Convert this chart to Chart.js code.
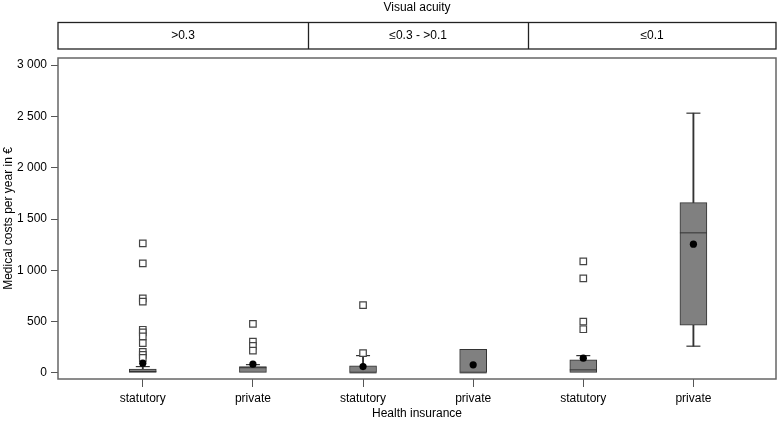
<!DOCTYPE html>
<html lang="en">
<head>
  <meta charset="UTF-8">
  <title>Medical costs by visual acuity</title>
  <script src="https://cdn.jsdelivr.net/npm/chart.js"></script>
  <style>
    html, body { margin: 0; padding: 0; background: #fff; overflow: hidden; }
    #wrap { width: 778px; height: 422px; overflow: hidden; }
    canvas { display: block; }
  </style>
</head>
<body>
<div id="wrap"><canvas id="boxChart" width="778" height="422"></canvas></div>
<script>
// categories (x = 1..6)
const CATEGORIES = ['statutory', 'private', 'statutory', 'private', 'statutory', 'private'];
const PANELS = ['>0.3', '\u22640.3 - >0.1', '\u22640.1'];
const PANEL_BREAKS = [2.5, 4.5];
const Y_TICKS = [0, 500, 1000, 1500, 2000, 2500, 3000];

// box statistics per category
const WHISKER_LOW = [0, 0, 0, null, 0, 260];
const Q1 = [0, 0, 0, 0, 0, 464];
const MEDIAN = [13, 50, 0, 0, 29, 1365];
const Q3 = [36, 61, 68, 230, 126, 1660];
const WHISKER_HIGH = [61, 80, 168, null, 168, 2532];
const MEANS = [94, 85, 61, 78, 143, 1255];
const OUTLIERS = [
  [1262, 1067, 727, 694, 420, 395, 355, 290, 205, 175, 145],
  [477, 305, 263, 217],
  [661, 192],
  [],
  [1086, 921, 499, 425],
  []
];

const FONT = "'Liberation Sans', Arial, sans-serif";
const xs = CATEGORIES.map((c, i) => i + 1);

const boxData = xs.map((x, i) => ({ x, y: [Q1[i], Q3[i]] }));
const whiskerData = [];
const capData = [];
xs.forEach((x, i) => {
  if (WHISKER_HIGH[i] != null && WHISKER_HIGH[i] > Q3[i]) {
    whiskerData.push({ x, y: [Q3[i], WHISKER_HIGH[i]] });
    capData.push({ x, y: WHISKER_HIGH[i] });
  }
  if (WHISKER_LOW[i] != null && WHISKER_LOW[i] < Q1[i]) {
    whiskerData.push({ x, y: [WHISKER_LOW[i], Q1[i]] });
    capData.push({ x, y: WHISKER_LOW[i] });
  }
});
const medianData = xs.map((x, i) => ({ x, y: MEDIAN[i] }));
const meanData = xs.map((x, i) => ({ x, y: MEANS[i] }));
const outlierData = [];
OUTLIERS.forEach((list, i) => list.forEach(v => outlierData.push({ x: xs[i], y: v })));

function spaced(v) {
  return String(v).replace(/\B(?=(\d{3})+(?!\d))/g, ' ');
}

const framePlugin = {
  id: 'frame',
  afterDraw(chart) {
    const { ctx, chartArea: a } = chart;
    const xScale = chart.scales.x;
    ctx.save();
    // plot frame
    ctx.strokeStyle = '#666';
    ctx.lineWidth = 1.5;
    ctx.strokeRect(a.left, a.top, a.right - a.left, a.bottom - a.top);

    // header strip
    const top = 22.5, bottom = 49;
    ctx.strokeStyle = '#222';
    ctx.lineWidth = 1.3;
    ctx.strokeRect(a.left, top, a.right - a.left, bottom - top);
    const edges = [a.left, ...PANEL_BREAKS.map(v => xScale.getPixelForValue(v)), a.right];
    ctx.beginPath();
    for (let i = 1; i < edges.length - 1; i++) {
      ctx.moveTo(Math.round(edges[i]) + 0.5, top);
      ctx.lineTo(Math.round(edges[i]) + 0.5, bottom);
    }
    ctx.stroke();
    ctx.fillStyle = '#000';
    ctx.font = '12px ' + FONT;
    ctx.textAlign = 'center';
    ctx.textBaseline = 'middle';
    PANELS.forEach((p, i) => {
      ctx.fillText(p, (edges[i] + edges[i + 1]) / 2, (top + bottom) / 2);
    });
    ctx.fillText('Visual acuity', (a.left + a.right) / 2, 8);
    ctx.restore();
  }
};

new Chart(document.getElementById('boxChart'), {
  data: {
    datasets: [
      {
        type: 'scatter', order: 1, data: meanData,
        pointStyle: 'circle', pointRadius: 3.6,
        backgroundColor: '#000', borderColor: '#000', borderWidth: 0
      },
      {
        type: 'scatter', order: 2, data: outlierData,
        pointStyle: 'rect', pointRadius: 4.6,
        backgroundColor: '#fff', borderColor: '#444', borderWidth: 1.2
      },
      {
        type: 'scatter', order: 3, data: medianData,
        pointStyle: 'line', pointRadius: 13.5,
        borderColor: '#333', borderWidth: 1
      },
      {
        type: 'scatter', order: 4, data: capData,
        pointStyle: 'line', pointRadius: 7,
        borderColor: '#333', borderWidth: 1.2
      },
      {
        type: 'bar', order: 5, data: boxData,
        barThickness: 27, grouped: false,
        backgroundColor: '#808080', borderColor: '#333',
        borderWidth: 1, borderSkipped: false
      },
      {
        type: 'bar', order: 6, data: whiskerData,
        barThickness: 1.2, grouped: false,
        backgroundColor: '#333', borderWidth: 0
      }
    ]
  },
  options: {
    responsive: false,
    animation: false,
    layout: { autoPadding: false, padding: { top: 58, right: 2, left: 0, bottom: 0 } },
    plugins: { legend: { display: false }, tooltip: { enabled: false } },
    scales: {
      x: {
        type: 'linear',
        min: 0.23,
        max: 6.75,
        offset: false,
        afterFit(scale) {
          scale.height = 43;
          scale.paddingLeft = 0;
          scale.paddingRight = 0;
        },
        afterBuildTicks(scale) { scale.ticks = xs.map(v => ({ value: v })); },
        border: { display: false },
        grid: { offset: false, drawOnChartArea: false, drawTicks: true, tickLength: 8, tickColor: '#555', lineWidth: 1 },
        ticks: {
          padding: 4,
          color: '#000',
          font: { family: FONT, size: 12 },
          callback: v => CATEGORIES[v - 1]
        },
        title: {
          display: true, text: 'Health insurance', color: '#000',
          font: { family: FONT, size: 12 }, padding: { top: 0, bottom: 1 }
        }
      },
      y: {
        type: 'linear',
        min: -60,
        max: 3070,
        afterFit(scale) {
          scale.width = 58;
          scale.paddingTop = 0;
          scale.paddingBottom = 0;
        },
        afterBuildTicks(scale) { scale.ticks = Y_TICKS.map(v => ({ value: v })); },
        border: { display: false },
        grid: { drawOnChartArea: false, drawTicks: true, tickLength: 7, tickColor: '#555', lineWidth: 1 },
        ticks: {
          padding: 4,
          color: '#000',
          font: { family: FONT, size: 12 },
          callback: v => spaced(v)
        },
        title: {
          display: true, text: 'Medical costs per year in \u20ac', color: '#000',
          font: { family: FONT, size: 12 }, padding: { top: 1, bottom: 0 }
        }
      }
    }
  },
  plugins: [framePlugin]
});
</script>
</body>
</html>
